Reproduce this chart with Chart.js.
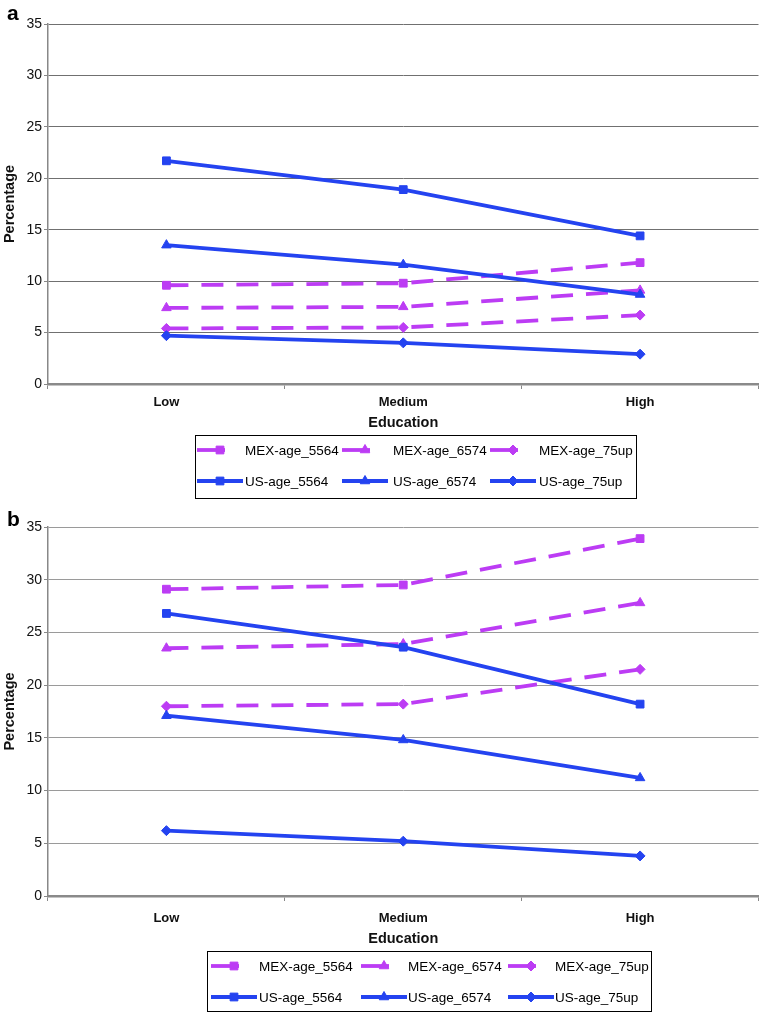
<!DOCTYPE html>
<html>
<head>
<meta charset="utf-8">
<script src="https://cdn.jsdelivr.net/npm/chart.js@4/dist/chart.umd.min.js"></script>
<style>
  html, body { margin: 0; padding: 0; background: #fff; }
  #wrap { position: relative; width: 765px; height: 1012px; }
  .panel { position: absolute; left: 0; width: 765px; }
</style>
</head>
<body>
<div id="wrap">
  <div class="panel" style="top:0;height:505px"><canvas id="chartA"></canvas></div>
  <div class="panel" style="top:505px;height:507px"><canvas id="chartB"></canvas></div>
</div>
<script>
// Percentage by education level, Mexico vs US, by age group (panels a and b)

const categories = ['Low', 'Medium', 'High'];
const yTicks = [0, 5, 10, 15, 20, 25, 30, 35];

// panel a
const mexA_5564 = [9.6, 9.8, 11.8];
const mexA_6574 = [7.4, 7.5, 9.1];
const mexA_75up = [5.4, 5.5, 6.7];
const usA_5564 = [21.7, 18.9, 14.4];
const usA_6574 = [13.5, 11.6, 8.7];
const usA_75up = [4.7, 4.0, 2.9];

// panel b
const mexB_5564 = [29.1, 29.5, 33.9];
const mexB_6574 = [23.5, 23.9, 27.8];
const mexB_75up = [18.0, 18.2, 21.5];
const usB_5564 = [26.8, 23.6, 18.2];
const usB_6574 = [17.1, 14.8, 11.2];
const usB_75up = [6.2, 5.2, 3.8];

const seriesLabels = ['MEX-age_5564', 'MEX-age_6574', 'MEX-age_75up',
                      'US-age_5564', 'US-age_6574', 'US-age_75up'];

const MEX_COLOR = '#BC3CF4';
const US_COLOR = '#2443F0';
const FONT = '"Liberation Sans", Arial, Helvetica, sans-serif';

function buildDatasets(values) {
    const shapes = ['rect', 'triangle', 'rectRot'];
    const radii = [5.5, 5.5, 5];
    return values.map((data, i) => {
        const isMex = i < 3;
        const color = isMex ? MEX_COLOR : US_COLOR;
        return {
            label: seriesLabels[i],
            data: data,
            borderColor: color,
            backgroundColor: color,
            borderWidth: 3.8,
            borderDash: isMex ? [22, 13] : undefined,
            pointStyle: shapes[i % 3],
            pointRadius: radii[i % 3],
            pointBorderWidth: 1,
            pointBackgroundColor: color,
            pointBorderColor: color,
            tension: 0,
            order: isMex ? 1 : 0   // US lines sit on top
        };
    });
}

// legend box + panel letter, drawn on the canvas
const seriesLegend = {
    id: 'seriesLegend',
    afterDraw(chart, args, opts) {
        const ctx = chart.ctx;
        ctx.save();
        ctx.fillStyle = '#000';
        ctx.font = 'bold 21px ' + FONT;
        ctx.textBaseline = 'alphabetic';
        ctx.textAlign = 'left';
        ctx.fillText(opts.panel, opts.panelX, opts.panelY);

        const b = opts.box;
        ctx.strokeStyle = '#000';
        ctx.lineWidth = 1;
        ctx.setLineDash([]);
        ctx.strokeRect(b.x + 0.5, b.y + 0.5, b.w, b.h);

        ctx.font = '13.5px ' + FONT;
        ctx.textBaseline = 'middle';
        chart.data.datasets.forEach((ds, i) => {
            const row = Math.floor(i / 3), col = i % 3;
            const x0 = opts.sampleX[col];
            const y = opts.rowY[row];
            const len = ds.borderDash ? 28 : 46;
            ctx.strokeStyle = ds.borderColor;
            ctx.fillStyle = ds.borderColor;
            ctx.lineWidth = ds.borderWidth;
            ctx.beginPath();
            ctx.moveTo(x0, y);
            ctx.lineTo(x0 + len, y);
            ctx.stroke();
            ctx.lineWidth = 1;
            Chart.helpers.drawPoint(ctx, {
                pointStyle: ds.pointStyle, radius: ds.pointRadius,
                rotation: 0, borderWidth: 1
            }, x0 + 23, y);
            ctx.fillStyle = '#000';
            ctx.fillText(ds.label, opts.textX[col], y + 1);
        });
        ctx.restore();
    }
};

function makeChart(id, values, cfg) {
    const ctx = document.getElementById(id).getContext('2d');
    return new Chart(ctx, {
        type: 'line',
        data: { labels: categories, datasets: buildDatasets(values) },
        plugins: [seriesLegend],
        options: {
            responsive: true,
            maintainAspectRatio: false,
            animation: false,
            layout: { padding: { top: cfg.top, right: 5, bottom: cfg.padBottom, left: 0 } },
            plugins: {
                legend: { display: false },
                tooltip: { enabled: false },
                seriesLegend: cfg.legend
            },
            scales: {
                x: {
                    type: 'category',
                    offset: true,
                    grid: { offset: true, drawOnChartArea: false, drawTicks: true,
                            tickLength: 5, tickColor: '#888', tickWidth: 1 },
                    border: { color: '#8a8a8a', width: 2.5 },
                    ticks: { color: '#111', padding: cfg.xTickPad,
                             font: { family: FONT, size: 13, weight: 'bold' } },
                    title: { display: true, text: 'Education', color: '#111',
                             padding: { top: 0, bottom: cfg.xTitlePad },
                             font: { family: FONT, size: 14.5, weight: 'bold' } },
                    afterFit(scale) { scale.height = cfg.xHeight; }
                },
                y: {
                    min: 0,
                    max: 35,
                    afterBuildTicks(scale) { scale.ticks = yTicks.map(v => ({ value: v })); },
                    grid: { color: cfg.gridColor, lineWidth: 1, drawTicks: true,
                            tickLength: 4, tickColor: '#888' },
                    border: { color: '#888', width: 1.5 },
                    ticks: { color: '#111', padding: 2,
                             font: { family: FONT, size: 14 } },
                    title: { display: true, text: 'Percentage', color: '#111',
                             padding: { top: 1.3, bottom: 0 },
                             font: { family: FONT, size: 14.5, weight: 'bold' } },
                    afterFit(scale) { scale.width = 48; }
                }
            }
        }
    });
}

makeChart('chartA',
    [mexA_5564, mexA_6574, mexA_75up, usA_5564, usA_6574, usA_75up],
    {
        top: 24, padBottom: 71, xHeight: 50, xTickPad: 6, xTitlePad: 2.3,
        gridColor: '#707070',
        legend: {
            panel: 'a', panelX: 7, panelY: 20,
            box: { x: 195, y: 435, w: 441, h: 63 },
            rowY: [450, 481],
            sampleX: [197, 342, 490],
            textX: [245, 393, 539]
        }
    });

makeChart('chartB',
    [mexB_5564, mexB_6574, mexB_75up, usB_5564, usB_6574, usB_75up],
    {
        top: 22, padBottom: 62, xHeight: 54, xTickPad: 10, xTitlePad: 2,
        gridColor: '#9a9a9a',
        legend: {
            panel: 'b', panelX: 7, panelY: 21,
            box: { x: 207, y: 446, w: 444, h: 60 },
            rowY: [461, 492],
            sampleX: [211, 361, 508],
            textX: [259, 408, 555]
        }
    });
</script>
</body>
</html>
